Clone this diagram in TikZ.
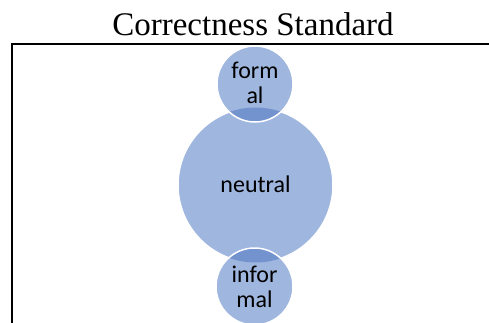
\documentclass[tikz,border=0pt]{standalone}
\usepackage{fontspec}
\setmainfont{Liberation Serif}
\newfontfamily\calib{Carlito}
\definecolor{lightblue}{HTML}{9FB6DF}
\definecolor{darkblue}{HTML}{7393CF}
\begin{document}
\begin{tikzpicture}[x=1pt,y=-1pt,
  lbl/.style={font=\calib\fontsize{24}{25}\selectfont,align=center,text=black}]
\useasboundingbox (0,0) rectangle (489,323);
\node (title) at (253,24) {\fontsize{33}{36}\selectfont Correctness Standard};
\draw[line width=2pt] (11.5,323) -- (11.5,44) -- (489,44);
\begin{scope}
\clip (0,0) rectangle (489,323);
\path[fill=lightblue,draw=white,line width=1.5pt] (255.5,185) circle (77.5);
\fill[lightblue] (255,84) circle (38);
\fill[lightblue] (254.5,286.5) circle (38.5);
\begin{scope}
\clip (255.5,185) circle (77.5);
\fill[darkblue] (255,84) circle (38);
\fill[darkblue] (254.5,286.5) circle (38.5);
\end{scope}
\draw[white,line width=1.5pt] (255,84) circle (38);
\draw[white,line width=1.5pt] (254.5,286.5) circle (38.5);
\end{scope}
\node[lbl] (neutral) at (255.5,184) {neutral};
\node[lbl] (formal) at (255,83) {form\\al};
\node[lbl] (informal) at (254.5,287) {infor\\mal};
\end{tikzpicture}
\end{document}
